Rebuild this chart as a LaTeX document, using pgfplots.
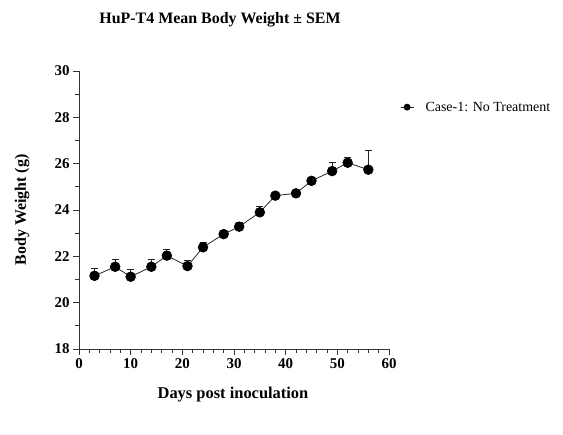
\documentclass[border=0pt]{standalone}
\usepackage{fontspec}
\setmainfont{Liberation Serif}
\usepackage{pgfplots}
\pgfplotsset{compat=1.18}

\begin{document}
\begin{tikzpicture}[x=1bp,y=1bp]
\useasboundingbox (-79bp,-86bp) rectangle (484bp,349bp);
\begin{axis}[
  at={(0,0)}, anchor=origin,
  scale only axis,
  width=310bp, height=278bp,
  xmin=0, xmax=60, ymin=18, ymax=30,
  axis x line*=bottom, axis y line*=left,
  axis line style={line width=0.9pt, color=black!80},
  xtick={0,10,...,60}, ytick={18,20,...,30},
  minor x tick num=4, minor y tick num=1,
  tick align=outside,
  major tick length=6bp, minor tick length=3.5bp,
  every tick/.style={line width=0.8pt, color=black!80},
  ticklabel style={font=\fontsize{15}{17}\selectfont\bfseries},
  /pgf/number format/assume math mode=true,
  clip=false,
  legend style={at={(rel axis cs:1.026,0.870)}, anchor=west, draw=none, fill=none,
    font=\fontsize{14}{16}\selectfont, legend cell align=left,
    /tikz/every odd column/.append style={column sep=9bp}},
  legend image code/.code={
    \draw[line width=0.8pt, black!85] (-6.5bp,0bp) -- (7bp,0bp);
    \fill[black] (0bp,0bp) circle (3bp);
  },
]
% mean body weight (g) with SEM, upper bar only
\addplot[
  line width=0.8pt, color=black!85,
  mark=*, mark size=4.8bp, mark options={fill=black, draw=black},
  error bars/.cd, y dir=plus, y explicit,
  error mark options={rotate=90, mark size=3.5bp, line width=0.8pt, black!85},
  error bar style={line width=0.8pt, black!85},
] table[x=day, y=w, y error=sem] {
day w     sem
3   21.16 0.32
7   21.55 0.33
10  21.12 0.32
14  21.55 0.31
17  22.03 0.25
21  21.58 0.23
24  22.39 0.20
28  22.96 0.08
31  23.28 0.17
35  23.90 0.24
38  24.62 0.05
42  24.72 0.14
45  25.26 0.06
49  25.68 0.39
52  26.04 0.25
56  25.74 0.83
};
\addlegendentry{Case-1: No Treatment}
\end{axis}
\node[font=\fontsize{16}{18}\selectfont\bfseries] at (141bp,329bp) {HuP-T4 Mean Body Weight ± SEM};
\node[font=\fontsize{16}{18}\selectfont\bfseries, rotate=90] at (-57bp,139bp) {Body Weight (g)};
\node[font=\fontsize{16.5}{18}\selectfont\bfseries] at (154bp,-46bp) {Days post inoculation};
\end{tikzpicture}
\end{document}
